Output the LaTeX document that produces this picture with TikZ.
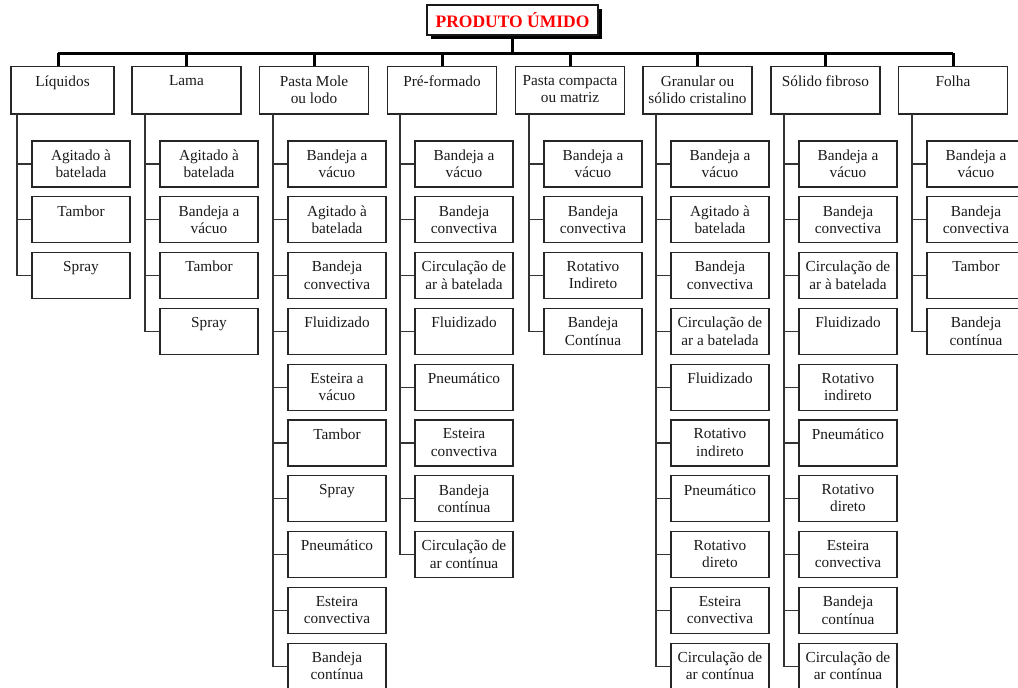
\documentclass[tikz,border=0pt]{standalone}
\usepackage{fontspec}
\setmainfont{Liberation Serif}
\tikzset{
  catbox/.style={draw=black!85, line width=1.1pt, minimum width=109pt, minimum height=47.3pt, inner sep=0pt},
  leafbox/.style={draw=black!85, line width=1.1pt, minimum width=98pt, minimum height=46pt, inner sep=0pt},
  lbl/.style={anchor=north, inner sep=0pt, align=center, text=black!90, font=\fontsize{15.3}{17.3}\selectfont},
  rootbox/.style={draw=black!90, fill=white, line width=1.3pt, minimum width=171pt, minimum height=30pt, inner sep=0pt, text=red, font=\fontsize{17.5}{20}\selectfont\bfseries},
  bus/.style={line width=3pt, black},
  branch/.style={line width=1.1pt, black!80},
}
\newcommand\branchcol[3]{%
  \coordinate (#1-c) at (#2,114);
  \foreach \t [count=\i from 0] in {#3} {
    \node[leafbox] (#1-\i) at ({#2+64},{164+\i*55.8}) {};
    \node[lbl] (#1-\i-t) at ({#2+64},{149.5+\i*55.8}) {\t};
    \draw[branch] (#1-c) |- (#1-\i.west);
  }%
}
\newcommand\catnode[5]{% id, center x, drop x, text, extra style
  \node[catbox,#5] (#1) at (#2,90.35) {};
  \node[lbl] (#1-t) at (#2,75.2) {#4};
  \coordinate (#1-b) at (#3,53);
  \draw[bus] (#1-b) -- (#1-b |- #1.north);
}
\begin{document}
\begin{tikzpicture}[x=1pt,y=-1pt]
\useasboundingbox (0,0) rectangle (1018,688);
% root
\fill[black] (431,9) rectangle (602,39);
\node[rootbox] (root) at (512.5,20) {PRODUTO ÚMIDO};
% categories
\catnode{c1}{62.5}{58}{Líquidos}{minimum width=103pt}
\catnode{c2}{186.5}{186.5}{Lama}{}
\catnode{c3}{314}{314}{Pasta Mole\\ou lodo}{}
\catnode{c4}{442}{442}{Pré-formado}{}
\catnode{c5}{570}{570}{Pasta compacta\\ou matriz}{}
\catnode{c6}{697.5}{697.5}{Granular ou\\sólido cristalino}{}
\catnode{c7}{825.5}{825.5}{Sólido fibroso}{}
\catnode{c8}{953}{953}{Folha}{}
% bus
\draw[bus] (c1-b) -- (c8-b);
\draw[bus] (root.south) -- (root.south |- c1-b);
% leaves
\branchcol{l1}{17}{{Agitado à\\batelada},{Tambor},{Spray}}
\branchcol{l2}{145}{{Agitado à\\batelada},{Bandeja a\\vácuo},{Tambor},{Spray}}
\branchcol{l3}{273}{{Bandeja a\\vácuo},{Agitado à\\batelada},{Bandeja\\convectiva},{Fluidizado},{Esteira a\\vácuo},{Tambor},{Spray},{Pneumático},{Esteira\\convectiva},{Bandeja\\contínua}}
\branchcol{l4}{400}{{Bandeja a\\vácuo},{Bandeja\\convectiva},{Circulação de\\ar à batelada},{Fluidizado},{Pneumático},{Esteira\\convectiva},{Bandeja\\contínua},{Circulação de\\ar contínua}}
\branchcol{l5}{529}{{Bandeja a\\vácuo},{Bandeja\\convectiva},{Rotativo\\Indireto},{Bandeja\\Contínua}}
\branchcol{l6}{656}{{Bandeja a\\vácuo},{Agitado à\\batelada},{Bandeja\\convectiva},{Circulação de\\ar a batelada},{Fluidizado},{Rotativo\\indireto},{Pneumático},{Rotativo\\direto},{Esteira\\convectiva},{Circulação de\\ar contínua}}
\branchcol{l7}{784}{{Bandeja a\\vácuo},{Bandeja\\convectiva},{Circulação de\\ar à batelada},{Fluidizado},{Rotativo\\indireto},{Pneumático},{Rotativo\\direto},{Esteira\\convectiva},{Bandeja\\contínua},{Circulação de\\ar contínua}}
\branchcol{l8}{912}{{Bandeja a\\vácuo},{Bandeja\\convectiva},{Tambor},{Bandeja\\contínua}}
\end{tikzpicture}
\end{document}
